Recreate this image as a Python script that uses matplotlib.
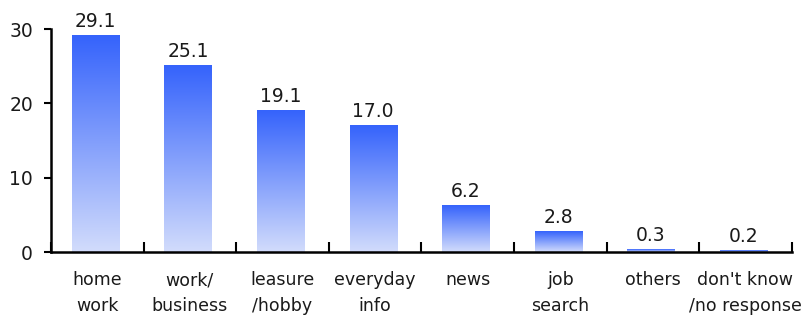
import numpy as np
import matplotlib.pyplot as plt
from matplotlib.colors import LinearSegmentedColormap

categories = ["home\nwork", "work/\nbusiness", "leasure\n/hobby", "everyday\ninfo",
              "news", "job\nsearch", "others", "don't know\n/no response"]
values = [29.1, 25.1, 19.1, 17.0, 6.2, 2.8, 0.3, 0.2]

plt.rcParams['font.family'] = ['DejaVu Sans']

fig = plt.figure(figsize=(8.03, 3.19), dpi=100)
ax = fig.add_axes([0.0635, 0.21, 0.9225, 0.699])

cmap = LinearSegmentedColormap.from_list("bar", ["#d2dcfc", "#3563fb"])
grad = np.linspace(0, 1, 256).reshape(-1, 1)

x = np.arange(len(categories))
width = 0.51
bars = ax.bar(x - 0.02, values, width=width, color="none", edgecolor="none")
for b, v in zip(bars, values):
    x0 = b.get_x()
    ax.imshow(grad, cmap=cmap, origin="lower", aspect="auto",
              extent=[x0, x0 + width, 0, v], zorder=2)
    ax.text(b.get_x() + width / 2, v + 0.6, f"{v:.1f}", ha="center", va="bottom",
            fontsize=13.5, color="#1a1a1a")

ax.set_xlim(-0.5, len(categories) - 0.5)
ax.set_ylim(0, 30)
ax.set_yticks([0, 10, 20, 30])
ax.tick_params(axis="y", direction="out", length=5, width=1.5, labelsize=13.5,
               pad=8, labelcolor="#1a1a1a")

# category boundaries as ticks, labels at centers
ax.set_xticks(np.arange(len(categories) + 1) - 0.5)
ax.set_xticklabels([])
ax.set_xticks(x, minor=True)
ax.set_xticklabels(categories, minor=True, fontsize=12.5, linespacing=1.55,
                   color="#1a1a1a")
ax.tick_params(axis="x", which="major", direction="in", length=7, width=1.5)
ax.tick_params(axis="x", which="minor", length=0, pad=14)

for s in ["top", "right"]:
    ax.spines[s].set_visible(False)
ax.spines["left"].set_linewidth(1.8)
ax.spines["bottom"].set_linewidth(1.8)

fig.savefig("out.png", dpi=100)
